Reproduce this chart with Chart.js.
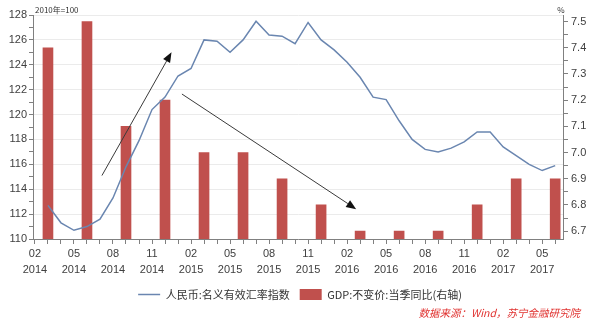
<!DOCTYPE html>
<html lang="zh-CN">
<head>
<meta charset="UTF-8">
<title>人民币名义有效汇率与GDP</title>
<style>
  body { margin: 0; background: #fff; }
  #wrap { width: 600px; height: 322px; }
</style>
<script src="https://cdn.jsdelivr.net/npm/chart.js"></script>
</head>
<body>
<div id="wrap"><canvas id="myChart" width="600" height="322"></canvas></div>
<script>
// 横轴用月份序号：2014年1月 = 0
const neerStartMonth = 2; // 2014-03
const neerValues = [
  112.7, 111.3, 110.7, 111.0, 111.6, 113.3, 115.8, 117.9, 120.4, 121.4,
  123.1, 123.7, 126.0, 125.9, 125.0, 126.0, 127.5, 126.4, 126.3, 125.7,
  127.4, 126.0, 125.2, 124.2, 123.0, 121.4, 121.2, 119.5, 118.0, 117.2,
  117.0, 117.3, 117.8, 118.6, 118.6, 117.4, 116.7, 116.0, 115.5, 115.9
];

// 季末月份
const gdpMonths = [2, 5, 8, 11, 14, 17, 20, 23, 26, 29, 32, 35, 38, 41];
const gdpValues = [7.4, 7.5, 7.1, 7.2, 7.0, 7.0, 6.9, 6.8, 6.7, 6.7, 6.7, 6.8, 6.9, 6.9];

const tickMonths = [1, 4, 7, 10, 13, 16, 19, 22, 25, 28, 31, 34, 37, 40];
const tickMonthLabels = ['02', '05', '08', '11', '02', '05', '08', '11', '02', '05', '08', '11', '02', '05'];
const tickYearLabels = ['2014', '2014', '2014', '2014', '2015', '2015', '2015', '2015', '2016', '2016', '2016', '2016', '2017', '2017'];

const neerTicks = [110, 112, 114, 116, 118, 120, 122, 124, 126, 128];
const gdpTicks = [6.7, 6.8, 6.9, 7.0, 7.1, 7.2, 7.3, 7.4, 7.5];

// 趋势箭头（起点、终点，按左轴数值）
const trendArrows = [
  { from: [6.15, 115.1], to: [11.5, 125.0] },
  { from: [12.3, 121.65], to: [25.7, 112.4] }
];

const numFont = '"Liberation Sans", Arial, sans-serif';
const cjkFont = '"Noto Sans CJK SC", "Noto Sans", sans-serif';
const textColor = '#404040';
const axisColor = '#808080';

const neerData = neerValues.map((v, i) => ({ x: neerStartMonth + i, y: v }));
const gdpData = gdpValues.map((v, i) => ({ x: gdpMonths[i], y: v }));

// 小刻度：主刻度之间补一个
function withMinor(major) {
  const out = [];
  major.forEach((v, i) => {
    out.push(v);
    if (i < major.length - 1) out.push(Math.round((v + major[i + 1]) / 2 * 1000) / 1000);
  });
  return out;
}

const extras = {
  id: 'extras',
  afterDatasetsDraw(chart) {
    const { ctx, scales } = chart;
    const x = scales.x, y = scales.y;
    ctx.save();
    trendArrows.forEach(a => {
      const x1 = x.getPixelForValue(a.from[0]);
      const y1 = y.getPixelForValue(a.from[1]);
      const x2 = x.getPixelForValue(a.to[0]);
      const y2 = y.getPixelForValue(a.to[1]);
      const ang = Math.atan2(y2 - y1, x2 - x1);
      const head = 10, half = 4;
      const bx = x2 - head * Math.cos(ang), by = y2 - head * Math.sin(ang);
      ctx.strokeStyle = '#3a3a3a';
      ctx.lineWidth = 1;
      ctx.beginPath();
      ctx.moveTo(x1, y1);
      ctx.lineTo(bx, by);
      ctx.stroke();
      ctx.fillStyle = '#111';
      ctx.beginPath();
      ctx.moveTo(x2, y2);
      ctx.lineTo(bx + half * Math.sin(ang), by - half * Math.cos(ang));
      ctx.lineTo(bx - half * Math.sin(ang), by + half * Math.cos(ang));
      ctx.closePath();
      ctx.fill();
    });
    ctx.restore();
  },
  afterDraw(chart) {
    const { ctx, chartArea } = chart;
    ctx.save();
    ctx.fillStyle = '#333';
    ctx.font = '8px ' + cjkFont;
    ctx.textBaseline = 'middle';
    ctx.textAlign = 'left';
    ctx.fillText('2010年=100', chartArea.left + 2, chartArea.top - 5);
    ctx.textAlign = 'center';
    ctx.fillText('%', chartArea.right - 2, chartArea.top - 5);
    ctx.fillStyle = '#e0312f';
    ctx.font = 'italic 10.5px ' + cjkFont;
    ctx.textAlign = 'right';
    ctx.fillText('数据来源：Wind，苏宁金融研究院', 580, 313);
    ctx.restore();
  }
};

const ctx = document.getElementById('myChart').getContext('2d');
const myChart = new Chart(ctx, {
  data: {
    datasets: [
      {
        type: 'line',
        label: '人民币:名义有效汇率指数',
        data: neerData,
        yAxisID: 'y',
        borderColor: '#6a86b0',
        backgroundColor: '#6a86b0',
        borderWidth: 1.5,
        pointRadius: 0,
        pointStyle: 'line',
        tension: 0,
        order: 0
      },
      {
        type: 'bar',
        label: 'GDP:不变价:当季同比(右轴)',
        data: gdpData,
        yAxisID: 'y2',
        backgroundColor: '#c0504d',
        borderWidth: 0,
        barThickness: 10,
        pointStyle: 'rect',
        order: 1
      }
    ]
  },
  plugins: [extras],
  options: {
    responsive: false,
    animation: false,
    layout: { padding: { top: 15, left: 0, right: 0, bottom: 12 } },
    plugins: {
      tooltip: { enabled: false },
      legend: {
        position: 'bottom',
        labels: {
          usePointStyle: true,
          pointStyleWidth: 22,
          boxHeight: 11,
          padding: 10,
          color: '#333',
          font: { size: 11, family: cjkFont }
        }
      }
    },
    scales: {
      x: {
        type: 'linear',
        offset: false,
        min: 0.85,
        max: 41.6,
        afterBuildTicks: s => {
          s.ticks = [];
          for (let m = 1; m <= 41; m++) s.ticks.push({ value: m });
        },
        afterFit: s => {
          s.height = 40;
          s.paddingLeft = 0;
          s.paddingRight = 0;
        },
        ticks: {
          autoSkip: false,
          maxRotation: 0,
          padding: 2,
          color: textColor,
          font: { size: 11, family: numFont, lineHeight: 1.45 },
          callback: v => {
            const i = tickMonths.indexOf(v);
            return i >= 0 ? [tickMonthLabels[i], tickYearLabels[i]] : '';
          }
        },
        grid: { offset: false, drawOnChartArea: false, tickLength: 5, tickColor: axisColor },
        border: { color: axisColor }
      },
      y: {
        position: 'left',
        min: 110,
        max: 128,
        afterBuildTicks: s => { s.ticks = withMinor(neerTicks).map(v => ({ value: v })); },
        afterFit: s => { s.width = 33; },
        ticks: {
          autoSkip: false,
          padding: 2,
          color: textColor,
          font: { size: 11, family: numFont },
          callback: v => neerTicks.includes(v) ? v : ''
        },
        grid: {
          color: c => (c.tick && neerTicks.includes(c.tick.value)) ? '#ebebeb' : 'rgba(0,0,0,0)',
          tickColor: axisColor,
          tickLength: 4
        },
        border: { color: axisColor }
      },
      y2: {
        position: 'right',
        min: 6.67,
        max: 7.525,
        afterBuildTicks: s => { s.ticks = withMinor(gdpTicks).map(v => ({ value: v })); },
        afterFit: s => { s.width = 37; },
        ticks: {
          autoSkip: false,
          padding: 3,
          color: textColor,
          font: { size: 11, family: numFont },
          callback: v => gdpTicks.includes(v) ? v.toFixed(1) : ''
        },
        grid: { drawOnChartArea: false, tickColor: axisColor, tickLength: 5 },
        border: { color: axisColor }
      }
    }
  }
});
</script>
</body>
</html>
